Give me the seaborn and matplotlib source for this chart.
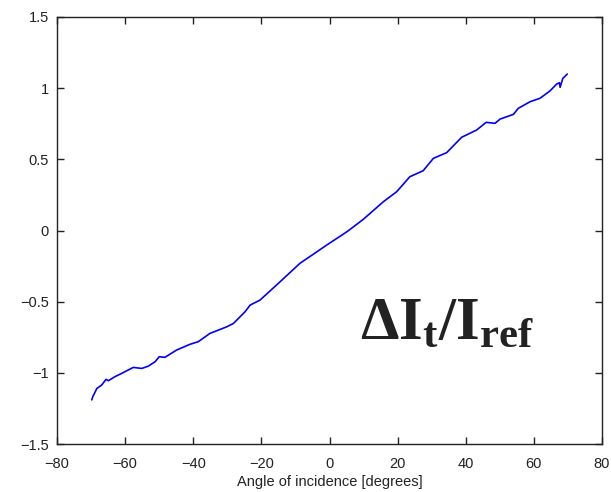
#plotting normalised transmitted intensity vs angle of incidence
import seaborn as sns
import matplotlib.pyplot as plt
import pandas as pd

# values
angle = [-69.8, -69.5, -68.3, -66.9, -65.6, -64.9, -63.0, -61.0, -59.5, -57.6,
         -55.1, -53.2, -51.2, -50.0, -48.3, -44.9, -41.0, -38.5, -35.1, -30.2,
         -28.2, -24.8, -23.3, -20.4, -14.5, -8.7, -0.8, 5.1, 9.9, 15.8,
         19.7, 23.6, 27.5, 30.5, 34.4, 38.8, 43.2, 46.0, 48.6, 50.1,
         54.0, 55.4, 58.9, 61.8, 64.7, 66.7, 67.5, 67.7, 68.5, 69.8]
delta_i = [-1.19, -1.168, -1.11, -1.086, -1.046, -1.055, -1.027, -1.004, -0.985, -0.962,
           -0.969, -0.953, -0.922, -0.887, -0.891, -0.840, -0.800, -0.781, -0.723, -0.677,
           -0.653, -0.571, -0.524, -0.489, -0.360, -0.231, -0.102, -0.009, 0.078, 0.202,
           0.272, 0.378, 0.420, 0.507, 0.547, 0.655, 0.706, 0.760, 0.753, 0.783,
           0.816, 0.858, 0.905, 0.929, 0.980, 1.029, 1.038, 1.006, 1.069, 1.099]
x_ticks = [-80, -60, -40, -20, 0, 20, 40, 60, 80]
y_ticks = [-1.5, -1, -0.5, 0, 0.5, 1, 1.5]

df = pd.DataFrame({'angle': angle, 'delta_i': delta_i})

sns.set_style('ticks')
plt.rcParams['font.family'] = ['Liberation Sans', 'DejaVu Sans']
plt.rcParams['mathtext.fontset'] = 'custom'
plt.rcParams['mathtext.bf'] = 'Liberation Serif:bold'
plt.rcParams['mathtext.rm'] = 'Liberation Serif:bold'

fig = plt.figure(figsize=(6.11, 4.92), dpi=100)
ax = fig.add_axes([57/611, 1 - 444/492, 545/611, 427/492])
sns.lineplot(x='angle', y='delta_i', data=df, color='#0000ff', linewidth=1.2,
             estimator=None, ax=ax)

ax.set_xlim(-80, 80)
ax.set_ylim(-1.5, 1.5)
ax.set_xticks(x_ticks)
ax.set_yticks(y_ticks)
ax.set_yticklabels(['\u22121.5', '\u22121', '\u22120.5', '0', '0.5', '1', '1.5'])
ax.tick_params(direction='in', top=True, right=True, length=5, width=1,
               labelsize=10.5, colors='#222222', labelcolor='#222222')
ax.tick_params(axis='x', pad=9)
ax.tick_params(axis='y', pad=6)
for s in ax.spines.values():
    s.set_linewidth(1)
    s.set_color('#222222')

ax.set_xlabel('Angle of incidence [degrees]', fontsize=10.5, color='#222222', labelpad=3)
ax.set_ylabel('')

ax.text(9.0, -0.76, r'$\mathbf{\Delta I_t/I_{ref}}$', fontsize=44, color='#222222',
        va='baseline', ha='left')

plt.savefig('out.png', dpi=100)
